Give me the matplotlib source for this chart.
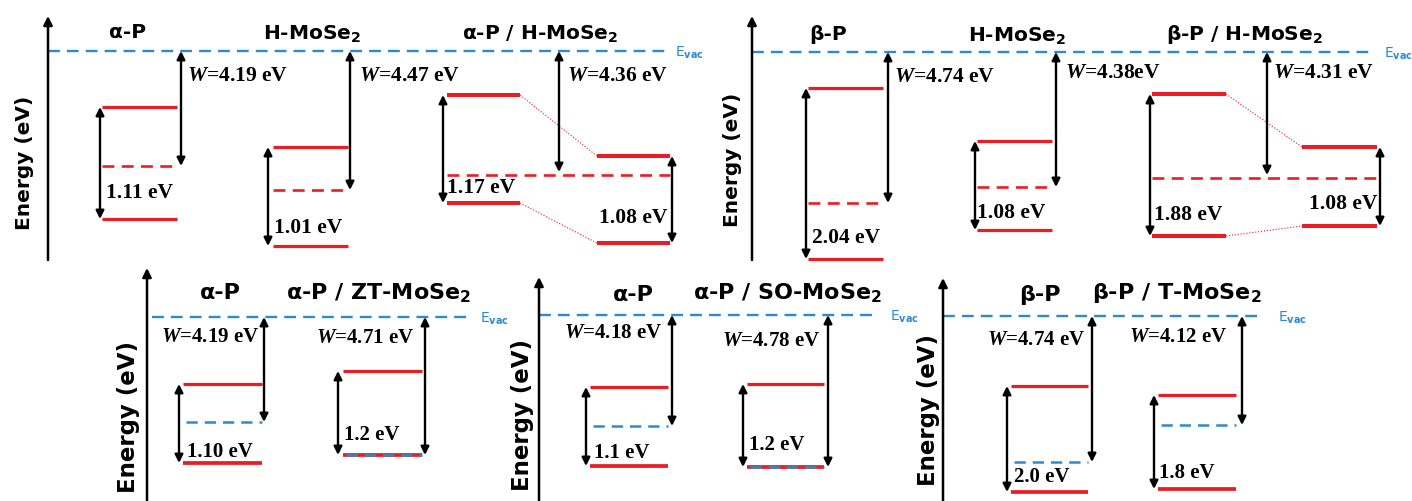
import matplotlib.pyplot as plt

plt.rcParams['mathtext.fontset'] = 'custom'
plt.rcParams['mathtext.bf'] = 'DejaVu Sans:bold'
plt.rcParams['mathtext.it'] = 'Liberation Serif:italic:bold'
plt.rcParams['mathtext.rm'] = 'DejaVu Sans'

RED = '#ec1c24'
BLUE = '#2a8ad4'
W_PX, H_PX = 1412, 501

# values written on the diagram are in eV; the drawn level depths below E_vac
# are schematic (the original is not to scale) and were read off the figure

# top left: alpha-P, H-MoSe2, alpha-P / H-MoSe2 (last two gaps belong to the stack)
tl_titles = ['α-P', r'H-MoSe$_\mathbf{2}$', r'α-P / H-MoSe$_\mathbf{2}$']
tl_work = ['4.19', '4.47', '4.36']
tl_gap = ['1.11', '1.01', '1.17', '1.08']
tl_cbm = [56, 96, 44, 105]
tl_vbm = [168, 195, 152, 192]
tl_ef = [115, 139, 124]

# top right: beta-P, H-MoSe2, beta-P / H-MoSe2
tr_titles = ['β-P', r'H-MoSe$_\mathbf{2}$', r'β-P / H-MoSe$_\mathbf{2}$']
tr_work = ['4.74', '4.38', '4.31']
tr_gap = ['2.04', '1.08', '1.88', '1.08']
tr_cbm = [36, 89, 42, 95]
tr_vbm = [207, 178, 184, 174]
tr_ef = [151, 135, 126]

# bottom: phosphorene on metallic MoSe2 phases
bl_titles = ['α-P', r'α-P / ZT-MoSe$_\mathbf{2}$']
bl_work = ['4.19', '4.71']
bl_gap = ['1.10', '1.2']
bl_cbm = [67, 54]
bl_vbm = [146, 138]
bl_ef = [105, 138]

bm_titles = ['α-P', r'α-P / SO-MoSe$_\mathbf{2}$']
bm_work = ['4.18', '4.78']
bm_gap = ['1.1', '1.2']
bm_cbm = [72, 69]
bm_vbm = [151, 152]
bm_ef = [111, 152]

br_titles = ['β-P', r'β-P / T-MoSe$_\mathbf{2}$']
br_work = ['4.74', '4.12']
br_gap = ['2.0', '1.8']
br_cbm = [70, 79]
br_vbm = [176, 173]
br_ef = [146, 109]


fig = plt.figure(figsize=(W_PX / 100, H_PX / 100), dpi=100)


def panel(box, evac_y):
    x0, y0, x1, y1 = box
    ax = fig.add_axes([x0 / W_PX, 1 - y1 / H_PX, (x1 - x0) / W_PX, (y1 - y0) / H_PX])
    ax.set_xlim(x0, x1)
    ax.set_ylim(y1 - evac_y, y0 - evac_y)  # depth below E_vac grows downward
    ax.axis('off')
    return ax


def level(ax, xa, xb, y, lw=2.3, color=RED, dashed=False):
    if dashed:
        ax.plot([xa, xb], [y, y], color=color, lw=lw, dashes=(4.5, 2.8))
    else:
        ax.plot([xa, xb], [y, y], color=color, lw=lw, solid_capstyle='butt')


def arrow2(ax, x, ya, yb, lw=1.7):
    ax.annotate('', xy=(x, yb), xytext=(x, ya),
                arrowprops=dict(arrowstyle='<|-|>', color='black', lw=lw,
                                mutation_scale=12, shrinkA=0, shrinkB=0))


def energy_axis(ax, x, ybot, ytop, lab, fs):
    ax.annotate('', xy=(x, ytop), xytext=(x, ybot),
                arrowprops=dict(arrowstyle='-|>', color='black', lw=1.8,
                                mutation_scale=13, shrinkA=0, shrinkB=0))
    ax.text(lab[0], lab[1], 'Energy (eV)', rotation=90, fontsize=fs,
            fontweight='bold', ha='center', va='center')


def evac(ax, xa, xb, lab_x):
    ax.plot([xa, xb], [0, 0], color=BLUE, lw=1.7, dashes=(5, 3))
    ax.text(lab_x, 2, r'E$_\mathbf{vac}$', color=BLUE, fontsize=10,
            ha='left', va='center')


def title(ax, x, y, t, fs):
    ax.text(x, y, t, fontsize=fs, fontweight='bold', ha='center', va='center')


def wlabel(ax, x, y, w, fs, sep=' '):
    ax.text(x, y, '$W$=' + w + sep + 'eV', family='Liberation Serif',
            fontweight='bold', fontsize=fs, ha='left', va='center')


def glabel(ax, x, y, g, fs):
    ax.text(x, y, g + ' eV', family='Liberation Serif', fontweight='bold',
            fontsize=fs, ha='left', va='center')


# ---------------- top row ----------------
top = [
    dict(box=(0, 0, 706, 265), ey=51, ax_x=48, elab=(25, 112), ev=(48, 667, 675),
         tx=[128, 312, 540], ty=-18,
         single=[(102, 177, 100, 181), (273, 348, 268, 350)],
         hetero=((447, 520, 443), (597, 670, 672), 559),
         wpos=[(187, 25), (359, 25), (567, 25)],
         gpos=[(106, 142), (274, 177), (447, 137), (599, 167)],
         titles=tl_titles, work=tl_work, gap=tl_gap, cbm=tl_cbm, vbm=tl_vbm, ef=tl_ef,
         sep=[' ', ' ', ' ']),
    dict(box=(706, 0, 1412, 265), ey=52, ax_x=752, elab=(732, 108), ev=(752, 1374, 1384),
         tx=[828, 1017, 1244], ty=-17,
         single=[(808, 883, 806, 888), (977, 1052, 975, 1056)],
         hetero=((1152, 1226, 1150), (1302, 1377, 1380), 1267),
         wpos=[(894, 25), (1065, 21), (1273, 21)],
         gpos=[(812, 186), (977, 161), (1154, 163), (1309, 152)],
         titles=tr_titles, work=tr_work, gap=tr_gap, cbm=tr_cbm, vbm=tr_vbm, ef=tr_ef,
         sep=[' ', '', ' ']),
]

for p in top:
    ax = panel(p['box'], p['ey'])
    energy_axis(ax, p['ax_x'], 265 - p['ey'] - 5, 16 - p['ey'], p['elab'], 14.5)
    evac(ax, *p['ev'])
    for cx, t in zip(p['tx'], p['titles']):
        title(ax, cx, p['ty'], t, 14.5)
    cbm, vbm, ef = p['cbm'], p['vbm'], p['ef']
    for i, (xa, xb, gx, wx) in enumerate(p['single']):
        level(ax, xa, xb, cbm[i])
        level(ax, xa, xb, vbm[i])
        level(ax, xa, xb, ef[i], lw=1.9, dashed=True)
        arrow2(ax, gx, cbm[i], vbm[i])
        arrow2(ax, wx, 0, ef[i])
    (pa, pb, pg), (ma, mb, mg), hw = p['hetero']
    level(ax, pa, pb, cbm[2], lw=2.9)
    level(ax, pa, pb, vbm[2], lw=2.9)
    level(ax, ma, mb, cbm[3], lw=2.9)
    level(ax, ma, mb, vbm[3], lw=2.9)
    level(ax, pa, mb, ef[2], lw=1.9, dashed=True)
    ax.plot([pb, ma], [cbm[2], cbm[3]], color=RED, lw=0.8, ls=':')
    ax.plot([pb, ma], [vbm[2], vbm[3]], color=RED, lw=0.8, ls=':')
    arrow2(ax, pg, cbm[2], vbm[2])
    arrow2(ax, mg, cbm[3], vbm[3])
    arrow2(ax, hw, 0, ef[2] - 3)
    for (x, y), w, s in zip(p['wpos'], p['work'], p['sep']):
        wlabel(ax, x, y, w, 15.5, s)
    for (x, y), g in zip(p['gpos'], p['gap']):
        glabel(ax, x, y, g, 15.5)

# ---------------- bottom row ----------------
bottom = [
    dict(box=(100, 262, 530, 501), ey=317, ax_x=147, top_y=268, elab=(128, 100),
         ev=(152, 470, 480), tpos=[(220, -24), (379, -25)],
         blocks=[(183, 262, 179, 264), (343, 422, 338, 425)],
         wpos=[(161, 20), (316, 21)], gpos=[(187, 135), (344, 118)],
         titles=bl_titles, work=bl_work, gap=bl_gap, cbm=bl_cbm, vbm=bl_vbm, ef=bl_ef),
    dict(box=(530, 262, 935, 501), ey=315, ax_x=539, top_y=277, elab=(523, 100),
         ev=(539, 873, 890), tpos=[(633, -20), (787, -22)],
         blocks=[(590, 668, 586, 672), (747, 824, 743, 828)],
         wpos=[(564, 18), (722, 26)], gpos=[(594, 138), (749, 130)],
         titles=bm_titles, work=bm_work, gap=bm_gap, cbm=bm_cbm, vbm=bm_vbm, ef=bm_ef),
    dict(box=(935, 262, 1412, 501), ey=316, ax_x=943, top_y=278, elab=(928, 94),
         ev=(943, 1262, 1278), tpos=[(1040, -21), (1177, -23)],
         blocks=[(1011, 1088, 1007, 1092), (1158, 1236, 1154, 1242)],
         wpos=[(987, 24), (1129, 21)], gpos=[(1014, 161), (1159, 157)],
         titles=br_titles, work=br_work, gap=br_gap, cbm=br_cbm, vbm=br_vbm, ef=br_ef),
]

for p in bottom:
    ax = panel(p['box'], p['ey'])
    energy_axis(ax, p['ax_x'], 501 - p['ey'], p['top_y'] - p['ey'], p['elab'], 16.5)
    evac(ax, *p['ev'])
    for (cx, cy), t in zip(p['tpos'], p['titles']):
        title(ax, cx, cy, t, 16)
    cbm, vbm, ef = p['cbm'], p['vbm'], p['ef']
    for i, (xa, xb, gx, wx) in enumerate(p['blocks']):
        level(ax, xa, xb, cbm[i])
        level(ax, xa, xb, vbm[i], lw=2.7)
        level(ax, xa + 3, xb, ef[i], lw=1.8, color=BLUE, dashed=True)
        arrow2(ax, gx, cbm[i], vbm[i])
        arrow2(ax, wx, 0, ef[i])
    for (x, y), w in zip(p['wpos'], p['work']):
        wlabel(ax, x, y, w, 15)
    for (x, y), g in zip(p['gpos'], p['gap']):
        glabel(ax, x, y, g, 15)

fig.savefig('out.png', dpi=100)
